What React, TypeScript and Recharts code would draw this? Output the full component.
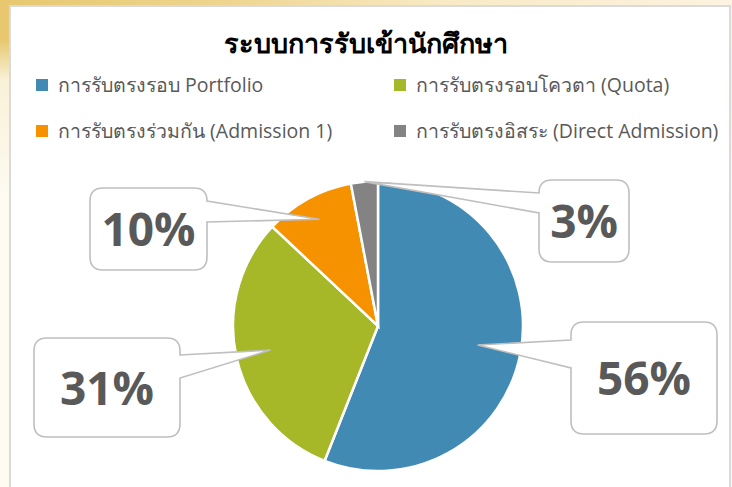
import React from 'react';
import { PieChart, Pie, Cell } from 'recharts';

// admission rounds, in legend / slice order
const categories = [
  'การรับตรงรอบ Portfolio',
  'การรับตรงรอบโควตา (Quota)',
  'การรับตรงร่วมกัน (Admission 1)',
  'การรับตรงอิสระ (Direct Admission)',
];
const shares = [56, 31, 10, 3];

const title = 'ระบบการรับเข้านักศึกษา';

const colors = ['#418AB3', '#A6B727', '#F69200', '#838383'];

// callout box placement relative to pie centre (layout only)
const callouts = [
  { dx: 193, dy: -4, w: 146, h: 112, side: 'left', b1: 18, b2: 46, tipR: 0.7 },
  { dx: -344, dy: 12, w: 146, h: 99, side: 'right', b1: 17, b2: 40, tipR: 0.76 },
  { dx: -288, dy: -138, w: 117, h: 82, side: 'right', b1: 13, b2: 34, tipR: 0.84 },
  { dx: 161, dy: -146, w: 90, h: 82, side: 'left', b1: 13, b2: 33, tipR: 1.0 },
];

const data = categories.map((name, i) => ({ name, value: shares[i] }));

const RAD = Math.PI / 180;

function calloutPath(x: number, y: number, w: number, h: number, r: number, side: string, b1: number, b2: number, tx: number, ty: number) {
  if (side === 'left') {
    return `M${x + r},${y} H${x + w - r} Q${x + w},${y} ${x + w},${y + r} V${y + h - r} Q${x + w},${y + h} ${x + w - r},${y + h} H${x + r} Q${x},${y + h} ${x},${y + h - r} V${y + b2} L${tx},${ty} L${x},${y + b1} V${y + r} Q${x},${y} ${x + r},${y} Z`;
  }
  return `M${x + r},${y} H${x + w - r} Q${x + w},${y} ${x + w},${y + r} V${y + b1} L${tx},${ty} L${x + w},${y + b2} V${y + h - r} Q${x + w},${y + h} ${x + w - r},${y + h} H${x + r} Q${x},${y + h} ${x},${y + h - r} V${y + r} Q${x},${y} ${x + r},${y} Z`;
}

const renderCallout = (props: any) => {
  const { cx, cy, midAngle, outerRadius, index, percent } = props;
  const c = callouts[index];
  const r = outerRadius * c.tipR;
  const tx = cx + r * Math.cos(-midAngle * RAD);
  const ty = cy + r * Math.sin(-midAngle * RAD);
  const x = cx + c.dx;
  const y = cy + c.dy;
  return (
    <g key={`callout-${index}`}>
      <path d={calloutPath(x, y, c.w, c.h, 13, c.side, c.b1, c.b2, tx, ty)} fill="#fff" stroke="#BFBFBF" strokeWidth={1.6} />
      <text
        x={x + c.w / 2}
        y={y + c.h / 2 + 17}
        textAnchor="middle"
        fontFamily="'Open Sans', sans-serif"
        fontWeight={700}
        fontSize={46}
        fill="#595959"
      >
        {`${Math.round(percent * 100)}%`}
      </text>
    </g>
  );
};

const legendPos = [
  { left: 36, top: 85 },
  { left: 394, top: 85 },
  { left: 36, top: 131 },
  { left: 394, top: 131 },
];

export default function App() {
  return (
    <div
      style={{
        position: 'fixed',
        left: 0,
        top: 0,
        width: 732,
        height: 487,
        overflow: 'hidden',
        background:
          'linear-gradient(180deg, rgba(253,251,241,0) 0px, rgba(253,251,241,0) 40px, #f9f1d8 80px, #fdfbf2 200px, #fdfbf2 487px), linear-gradient(90deg, #e7c86f 0%, #eed48e 30%, #f8eac4 60%, #fcf3e1 100%)',
      }}
    >
      <div
        style={{
          position: 'absolute',
          left: 9,
          top: 5,
          width: 722,
          height: 500,
          boxSizing: 'border-box',
          background: '#fff',
          border: '2px solid #DADADA',
        }}
      />
      <div
        style={{
          position: 'absolute',
          left: 0,
          top: 22,
          width: 732,
          textAlign: 'center',
          fontFamily: "'Open Sans', sans-serif",
          fontWeight: 700,
          fontSize: 27,
          color: '#000',
        }}
      >
        {title}
      </div>
      {data.map((d, i) => (
        <div
          key={d.name}
          style={{
            position: 'absolute',
            left: legendPos[i].left,
            top: legendPos[i].top - 15,
            height: 30,
            display: 'flex',
            alignItems: 'center',
            whiteSpace: 'nowrap',
          }}
        >
          <span style={{ width: 12, height: 12, background: colors[i], display: 'inline-block', marginRight: 10 }} />
          <span style={{ fontFamily: "'Open Sans', sans-serif", fontSize: 19.5, color: '#595959' }}>{d.name}</span>
        </div>
      ))}
      <div style={{ position: 'absolute', left: 0, top: 0 }}>
        <PieChart width={732} height={487} margin={{ top: 0, right: 0, bottom: 0, left: 0 }}>
          <Pie
            data={data}
            dataKey="value"
            nameKey="name"
            cx={378}
            cy={326}
            outerRadius={145}
            startAngle={90}
            endAngle={-270}
            stroke="#fff"
            strokeWidth={2.5}
            label={renderCallout}
            labelLine={false}
            isAnimationActive={false}
          >
            {data.map((d, i) => (
              <Cell key={d.name} fill={colors[i]} />
            ))}
          </Pie>
        </PieChart>
      </div>
    </div>
  );
}
